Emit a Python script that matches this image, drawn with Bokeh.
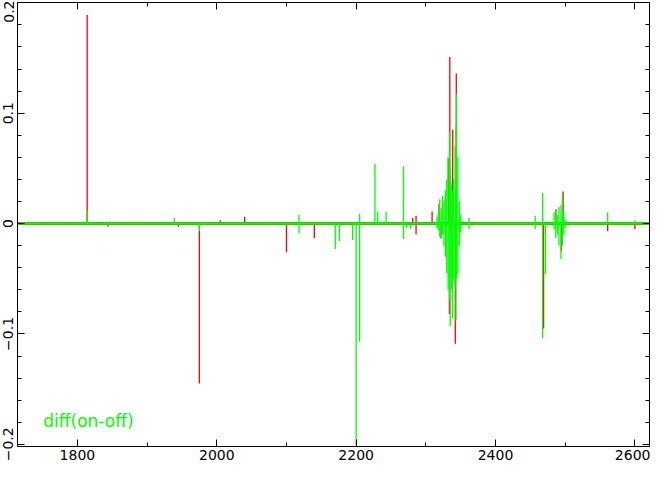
import numpy as np
from bokeh.plotting import figure
from bokeh.models import Range1d, FixedTicker, LinearAxis, Label
from bokeh.embed import file_html
from bokeh.resources import INLINE

# ---------------- data ----------------
spec_start = 1714.0
spec_end = 2621.0

# red series: spikes (x, value)
red_x = [1814, 1844, 1945, 1975, 2005, 2040, 2100, 2140, 2281, 2286, 2286,
         2309, 2319, 2322, 2332.4, 2333.8, 2334.4, 2338.6, 2342.3, 2343.7,
         2469, 2486.5, 2494.5, 2497, 2561, 2600]
red_y = [0.189, -0.003, -0.003, -0.145, 0.003, 0.006, -0.026, -0.013, 0.005, 0.007, -0.010,
         0.011, 0.018, -0.013, 0.059, -0.082, 0.151, 0.085, -0.109, 0.136,
         -0.095, 0.013, -0.025, 0.029, -0.007, -0.005]

# green series: spikes (x, value)
green_x = [1814, 1846, 1939, 1975, 2118, 2118, 2170, 2176, 2195, 2200, 2205, 2205,
           2227, 2231, 2243, 2268, 2268, 2272, 2278,
           2316, 2316, 2318, 2318, 2320, 2320, 2322, 2322, 2324, 2324, 2326, 2326,
           2328, 2328, 2330, 2330, 2332, 2332, 2334, 2334, 2335, 2335, 2337, 2337,
           2338.6, 2338.6, 2340, 2340, 2342, 2342, 2343.3, 2343.3, 2344, 2344,
           2346, 2346, 2348, 2348, 2350, 2350,
           2362, 2362, 2457, 2457, 2467.6, 2467.6, 2471.8,
           2484, 2484, 2486.5, 2486.5, 2489, 2489, 2491, 2491, 2494, 2494,
           2496, 2496, 2498, 2498, 2500, 2500, 2561, 2600]
green_y = [0.012, 0.002, 0.005, -0.007, 0.008, -0.009, -0.023, -0.016, -0.015, -0.21, 0.009, -0.107,
           0.054, 0.011, 0.011, 0.052, -0.014, -0.004, -0.005,
           0.006, -0.004, 0.010, -0.006, 0.022, -0.012, 0.014, -0.014, 0.025, -0.010, 0.020, -0.020,
           0.030, -0.030, 0.040, -0.045, 0.060, -0.060, 0.083, -0.070, 0.050, -0.093, 0.035, -0.060,
           0.030, -0.086, 0.040, -0.050, 0.070, -0.055, 0.088, -0.088, 0.117, -0.050,
           0.060, -0.046, 0.020, -0.020, 0.008, -0.008,
           0.005, -0.005, 0.007, -0.005, 0.028, -0.104, -0.046,
           0.010, -0.005, 0.013, -0.013, 0.008, -0.010, 0.015, -0.020, 0.017, -0.032,
           0.028, -0.020, 0.010, -0.010, 0.004, -0.004, 0.010, 0.003]

x_major = [1800, 2000, 2200, 2400, 2600]
x_minor = [1700, 1800, 1900, 2000, 2100, 2200, 2300, 2400, 2500, 2600]
y_major = [-0.2, -0.1, 0.0, 0.1, 0.2]
y_major_labels = ["\u22120.2", "\u22120.1", "0", "0.1", "0.2"]
y_minor = [round(v, 2) for v in np.arange(-0.2, 0.2001, 0.02)]

series_label = "diff(on-off)"

RED = "#ff0000"
GREEN = "#00ff00"
FONT = "DejaVu Sans"

# ---------------- figure ----------------
p = figure(width=650, height=462, output_backend="svg", toolbar_location=None,
           x_range=Range1d(spec_start, spec_end), y_range=Range1d(-0.202, 0.2003),
           min_border_left=0, min_border_right=1, min_border_top=2, min_border_bottom=0)
p.background_fill_color = "white"
p.border_fill_color = "white"
p.outline_line_color = "black"
p.outline_line_width = 1
p.xgrid.visible = False
p.ygrid.visible = False

# baselines and spikes
p.line(x=[spec_start, spec_end], y=[0, 0], line_color=RED, line_width=3)
p.segment(x0=red_x, y0=[0] * len(red_x), x1=red_x, y1=red_y, line_color=RED, line_width=1.3)
p.line(x=[spec_start, spec_end], y=[0, 0], line_color=GREEN, line_width=2.6)
p.segment(x0=green_x, y0=[0] * len(green_x), x1=green_x, y1=green_y, line_color=GREEN, line_width=1.3)


def style_axis(ax, ticks, minor, show_labels):
    ax.ticker = FixedTicker(ticks=ticks, minor_ticks=minor)
    ax.major_tick_in = 7
    ax.major_tick_out = 0
    ax.minor_tick_in = 4
    ax.minor_tick_out = 0
    ax.axis_line_color = "black"
    ax.major_tick_line_color = "black"
    ax.minor_tick_line_color = "black"
    ax.major_label_text_font = FONT
    ax.major_label_text_color = "black"
    if show_labels:
        ax.major_label_text_font_size = "14px"
    else:
        ax.major_label_text_font_size = "0px"
        ax.major_label_standoff = 0


xb = p.xaxis[0]
style_axis(xb, x_major, x_minor, True)
xb.major_label_standoff = 3

yl = p.yaxis[0]
style_axis(yl, y_major, y_minor, True)
yl.major_label_orientation = "vertical"
yl.major_label_standoff = 4
yl.major_label_overrides = {v: s for v, s in zip(y_major, y_major_labels)}

top = LinearAxis()
style_axis(top, x_major, x_minor, False)
top.major_label_overrides = {v: "" for v in x_major}
p.add_layout(top, "above")

right = LinearAxis()
style_axis(right, y_major, y_minor, False)
right.major_label_overrides = {v: "" for v in y_major}
p.add_layout(right, "right")

p.add_layout(Label(x=1751, y=-0.179, text=series_label, text_color=GREEN,
                   text_font=FONT, text_font_size="17px", text_baseline="alphabetic"))

open("out.html", "w").write(file_html(p, INLINE))
